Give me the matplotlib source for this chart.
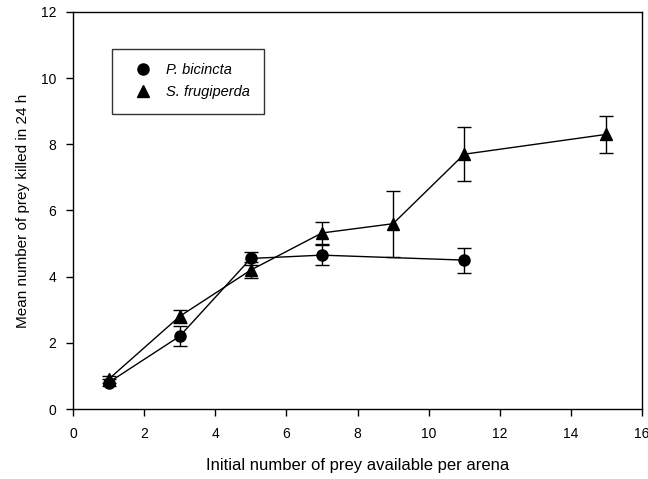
import matplotlib
matplotlib.use("Agg")
import matplotlib.pyplot as plt
from matplotlib.lines import Line2D

plt.rcParams["font.family"] = ["Liberation Sans", "DejaVu Sans"]

# P. bicincta
pb_x = [1, 3, 5, 7, 11]
pb_y = [0.8, 2.2, 4.55, 4.65, 4.5]
pb_err = [0.1, 0.3, 0.2, 0.3, 0.38]

# S. frugiperda
sf_x = [1, 3, 5, 7, 9, 11, 15]
sf_y = [0.9, 2.8, 4.2, 5.32, 5.6, 7.7, 8.3]
sf_err = [0.1, 0.2, 0.25, 0.33, 1.0, 0.82, 0.55]

fig = plt.figure(figsize=(6.48, 4.79), dpi=100)
ax = fig.add_axes([0.1127, 0.1461, 0.878, 0.829])

ax.errorbar(pb_x, pb_y, yerr=pb_err, color="black", marker="o", markersize=8,
            linewidth=1, elinewidth=1, capsize=5, capthick=1)
ax.errorbar(sf_x, sf_y, yerr=sf_err, color="black", marker="^", markersize=8,
            linewidth=1, elinewidth=1, capsize=5, capthick=1)

ax.set_xlim(0, 16)
ax.set_ylim(0, 12)
ax.set_xticks(range(0, 17, 2))
ax.set_yticks(range(0, 13, 2))
ax.tick_params(direction="out", length=5, width=1, labelsize=10, top=False, right=False)
ax.tick_params(axis="x", pad=8)
ax.tick_params(axis="y", pad=7)
for s in ax.spines.values():
    s.set_linewidth(1)

ax.set_xlabel("Initial number of prey available per arena", fontsize=12, labelpad=12)
ax.set_ylabel("Mean number of prey killed in 24 h", fontsize=11, labelpad=8)

handles = [Line2D([], [], color="black", marker="o", linestyle="none", markersize=8),
           Line2D([], [], color="black", marker="^", linestyle="none", markersize=8)]
labels = ["P. bicincta", "S. frugiperda"]
leg = ax.legend(handles, labels, loc="upper left", bbox_to_anchor=(0.0685, 0.907),
                fancybox=False, edgecolor="black", borderpad=1.0,
                handletextpad=0.5, labelspacing=0.55, handlelength=2.2,
                borderaxespad=0, prop={"style": "italic", "size": 10.5})
leg.get_frame().set_linewidth(1)

fig.savefig("out.png", dpi=100)
